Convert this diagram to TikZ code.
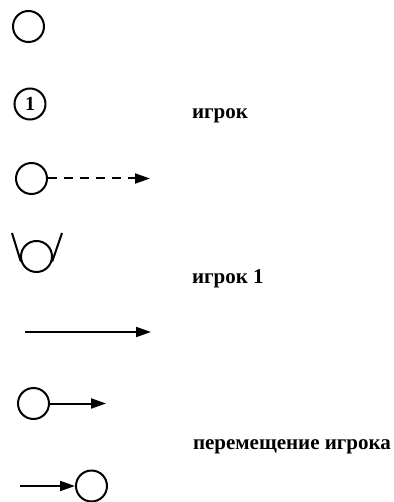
\documentclass[tikz,border=0pt]{standalone}
\usepackage{fontspec}
\setmainfont{Liberation Serif}
\usetikzlibrary{arrows.meta}

\begin{document}
\begin{tikzpicture}[x=1pt,y=-1pt,>={Triangle[length=15pt,width=10pt]},line width=2pt,
  pl/.style={circle,draw,minimum size=31pt,inner sep=0pt,font=\bfseries\fontsize{20}{20}\selectfont},
  lbl/.style={anchor=base west,inner sep=0pt,font=\bfseries\fontsize{21}{24}\selectfont}]
  \useasboundingbox (0,0) rectangle (393,502);
  % player symbols
  \node[pl] (p0) at (28.5,26.5) {};
  \node[pl] (p1) at (30,104) {1};
  \node[lbl] (t1) at (191,119) {игрок};
  \node[pl] (p2) at (31.5,178.5) {};
  \coordinate (e2) at (150,178.5);
  \draw[->,dash pattern=on 9pt off 7pt] (p2) -- (e2);
  \node[pl] (p3) at (36.5,256.5) {};
  \coordinate (h3l) at (12,233);
  \coordinate (h3r) at (62,233);
  \draw (h3l) -- (p3.198);
  \draw (h3r) -- (p3.342);
  \node[lbl] (t2) at (191,283) {игрок 1};
  % movement
  \coordinate (a4) at (25,332);
  \coordinate (b4) at (151,332);
  \draw[->] (a4) -- (b4);
  \node[pl] (p5) at (33.5,403.5) {};
  \coordinate (e5) at (106,403.5);
  \draw[->] (p5) -- (e5);
  \node[lbl] (t3) at (192,449) {перемещение игрока};
  \coordinate (s6) at (20,486);
  \node[pl] (p6) at (91.5,486) {};
  \draw[->] (s6) -- (p6);
\end{tikzpicture}
\end{document}
